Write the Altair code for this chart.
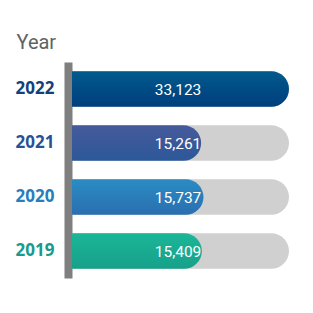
import altair as alt
import pandas as pd

years = ["2022", "2021", "2020", "2019"]
values = [33123, 15261, 15737, 15409]
labels = ["33,123", "15,261", "15,737", "15,409"]
label_colors = ["#153f7b", "#2b5195", "#2a7dbd", "#1a9a8c"]
grad_top = ["#005a8c", "#465a9b", "#2a8cc2", "#1bb698"]
grad_bot = ["#003e7e", "#2c5899", "#2a6fb0", "#17a08a"]
baseline = -11000

df = pd.DataFrame({"year": years, "value": values, "label": labels})
df["maxv"] = max(values)
df["base"] = baseline

W, H = 217, 216
xscale = alt.Scale(domain=[baseline, max(values)], zero=False, nice=False)
yscale = alt.Scale(domain=years, paddingInner=0.34, paddingOuter=0.17)

color_expr = " : ".join(
    f"datum.value == '{y}' ? '{c}'" for y, c in zip(years, label_colors)
) + " : '#333'"

yaxis = alt.Axis(
    title="Year", titleAngle=0, titleAlign="left", titleBaseline="alphabetic",
    titleX=-52, titleY=-14, titleFontSize=20, titleFont="Roboto",
    titleFontWeight="normal", titleColor="#626262",
    ticks=False, tickSize=0, offset=4, domainWidth=8,
    domainColor="#7f7f7f", labelPadding=14, labelFontSize=17,
    labelFont="Open Sans", labelFontWeight="bold",
    labelColor=alt.ExprRef(color_expr), grid=False,
)

base = alt.Chart(df)

bg = base.mark_bar(
    color="#d0d0d0", cornerRadiusTopRight=18, cornerRadiusBottomRight=18
).encode(
    y=alt.Y("year:N", scale=yscale, axis=yaxis, sort=years),
    x=alt.X("maxv:Q", scale=xscale, axis=None),
    x2="base:Q",
)

layers = [bg]
for y, t, b in zip(years, grad_top, grad_bot):
    g = alt.Gradient(
        gradient="linear",
        stops=[alt.GradientStop(color=t, offset=0), alt.GradientStop(color=b, offset=1)],
        x1=0, x2=0, y1=0, y2=1,
    )
    layers.append(
        base.transform_filter(alt.datum.year == y)
        .mark_bar(color=g, cornerRadiusTopRight=18, cornerRadiusBottomRight=18)
        .encode(
            y=alt.Y("year:N", scale=yscale, sort=years),
            x=alt.X("value:Q", scale=xscale),
            x2="base:Q",
        )
    )

text = base.mark_text(
    color="white", font="Roboto", fontSize=15.5, align="center", baseline="middle",
    dy=1,
).encode(
    y=alt.Y("year:N", scale=yscale, sort=years),
    x=alt.value(106),
    text="label:N",
)
layers.append(text)

chart = alt.layer(*layers).properties(
    width=W, height=H,
    padding={"left": 72, "top": 62, "right": 24, "bottom": 35},
    autosize="none",
).configure_view(stroke=None)

chart.save("out.html", embed_options={"renderer": "svg", "actions": False})
